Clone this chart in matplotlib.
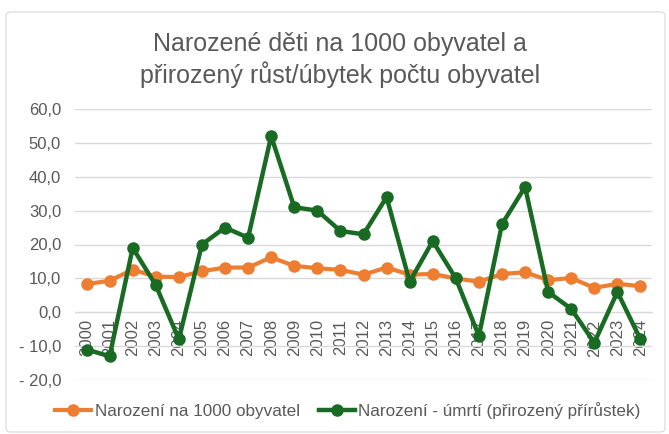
import matplotlib.pyplot as plt
import matplotlib.ticker as mticker
from matplotlib.patches import FancyBboxPatch

plt.rcParams['font.family'] = ['Liberation Sans', 'DejaVu Sans']

# ============================================
# DATA
# ============================================
years = [str(y) for y in range(2000, 2025)]
births_per_1000 = [8.3, 9.3, 12.6, 10.5, 10.4, 12.1, 13.2, 13.2, 16.2, 13.7,
                   13.0, 12.5, 11.1, 13.2, 11.1, 11.3, 10.0, 9.0, 11.3, 11.8,
                   9.5, 10.1, 7.2, 8.4, 7.7]
natural_change = [-11, -13, 19, 8, -8, 20, 25, 22, 52, 31,
                  30, 24, 23, 34, 9, 21, 10, -7, 26, 37,
                  6, 1, -9, 6, -8]

label_births = "Narození na 1000 obyvatel"
label_change = "Narození - úmrtí (přirozený přírůstek)"
title = "Narozené děti na 1000 obyvatel a\npřirozený růst/úbytek počtu obyvatel"

orange = "#ED7D31"
green = "#196B24"
grey_txt = "#595959"
grid_c = "#D9D9D9"

# ============================================
# PLOT
# ============================================
fig = plt.figure(figsize=(6.69, 4.34), dpi=100)
ax = fig.add_axes([75 / 669, 1 - 380 / 434, 577 / 669, 271 / 434])

# chart border
fig.patches.append(FancyBboxPatch((6 / 669, 2 / 434), 659 / 669, 420 / 434,
                                  boxstyle="round,pad=0,rounding_size=0.008",
                                  transform=fig.transFigure, fill=False,
                                  edgecolor=grid_c, linewidth=0.8))

x = range(len(years))
ax.plot(x, births_per_1000, color=orange, lw=3, marker="o", ms=8,
        label=label_births, zorder=3)
ax.plot(x, natural_change, color=green, lw=3.2, marker="o", ms=8,
        label=label_change, zorder=4)

ax.set_xlim(-0.5, len(years) - 0.5)
ax.set_ylim(-20, 60)
ax.set_yticks(range(-20, 61, 10))


def fmt(v, pos):
    s = f"{abs(v):.1f}".replace(".", ",")
    return f"- {s}" if v < 0 else s


ax.yaxis.set_major_formatter(mticker.FuncFormatter(fmt))
ax.grid(axis="y", color=grid_c, lw=1)
ax.set_axisbelow(True)
for s in ["top", "right", "left"]:
    ax.spines[s].set_visible(False)
ax.spines["bottom"].set_position(("data", 0))
ax.spines["bottom"].set_color(grid_c)

ax.set_xticks(list(x))
ax.set_xticklabels(years, rotation=90, va="top", ha="center")
ax.tick_params(axis="both", length=0, labelsize=12, labelcolor=grey_txt)
ax.tick_params(axis="x", pad=5)
ax.tick_params(axis="y", pad=10)

fig.text(0.508, 1 - 60 / 434, title, ha="center", va="center",
         fontsize=18, color=grey_txt, linespacing=1.2)

fig.legend(loc="center", bbox_to_anchor=(0.52, 1 - 411 / 434), ncol=2,
           frameon=False, fontsize=12.3, labelcolor=grey_txt,
           handlelength=2.1, columnspacing=1.1, handletextpad=0.2)

fig.savefig("out.png", dpi=100)
